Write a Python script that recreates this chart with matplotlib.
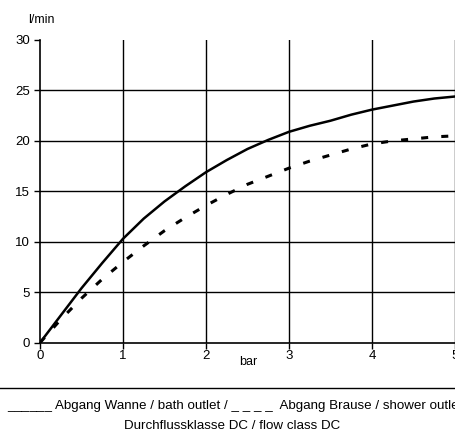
import matplotlib
matplotlib.use("Agg")
import matplotlib.pyplot as plt

# Werte (Druck in bar, Durchfluss in l/min)
druck = [0, 0.25, 0.5, 0.75, 1, 1.25, 1.5, 1.75, 2, 2.25, 2.5, 2.75,
         3, 3.25, 3.5, 3.75, 4, 4.25, 4.5, 4.75, 5]
wanne = [0, 2.7, 5.4, 7.9, 10.3, 12.3, 14.0, 15.5, 16.9, 18.1, 19.2, 20.1,
         20.9, 21.5, 22.0, 22.6, 23.1, 23.5, 23.9, 24.2, 24.4]
brause = [0, 2.3, 4.4, 6.3, 8.0, 9.6, 11.1, 12.4, 13.6, 14.7, 15.7, 16.5,
          17.3, 18.0, 18.6, 19.2, 19.7, 20.0, 20.2, 20.4, 20.5]

x_ticks = [0, 1, 2, 3, 4, 5]
y_ticks = [0, 5, 10, 15, 20, 25, 30]

plt.rcParams["font.family"] = ["Liberation Sans", "DejaVu Sans"]

fig = plt.figure(figsize=(4.56, 4.32), dpi=100)
ax = fig.add_axes([40 / 456, 1 - 342.7 / 432, 415 / 456, 302.7 / 432])

# Gitter
for xv in x_ticks[1:]:
    ax.axvline(xv, color="black", lw=1, zorder=1)
for yv in y_ticks[1:-1]:
    ax.axhline(yv, color="black", lw=1, zorder=1)

ax.plot(druck, wanne, color="black", lw=1.8, zorder=3)
ax.plot(druck, brause, color="black", lw=2.2, ls=(0, (2.3, 4.3)), zorder=3)

ax.set_xlim(0, 5)
ax.set_ylim(0, 30)
ax.set_xticks(x_ticks)
ax.set_yticks(y_ticks)
ax.tick_params(labelsize=9.5, length=4, width=1, color="black")
ax.tick_params(axis="x", pad=1.5)
ax.tick_params(axis="y", pad=3)
for s in ["top", "right"]:
    ax.spines[s].set_visible(False)
for s in ["left", "bottom"]:
    ax.spines[s].set_linewidth(1.2)

fig.text(28 / 456, 1 - 20 / 432, "l/min", fontsize=9, ha="left", va="center")
fig.text(248 / 456, 1 - 362 / 432, "bar", fontsize=9, ha="center", va="center")

# Trennlinie und Legendentext
fig.add_artist(plt.Line2D([0, 1], [1 - 388 / 432, 1 - 388 / 432], color="black", lw=1))
fig.text(7 / 456, 1 - 406 / 432,
         "______ Abgang Wanne / bath outlet / _ _ _ _  Abgang Brause / shower outlet",
         fontsize=9.6, ha="left", va="center")
fig.text(232 / 456, 1 - 426 / 432, "Durchflussklasse DC / flow class DC",
         fontsize=9.6, ha="center", va="center")

fig.savefig("out.png", dpi=100)
